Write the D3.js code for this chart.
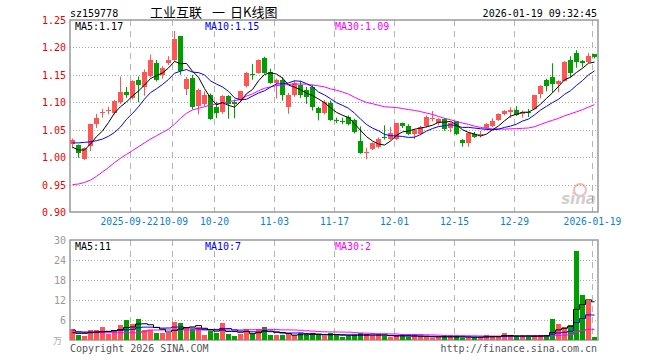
<!DOCTYPE html>
<html>
<head>
<meta charset="utf-8">
<script src="https://cdn.jsdelivr.net/npm/d3@7"></script>
<style>
body{margin:0;background:#fff}
svg{display:block}
text{font-family:"DejaVu Sans Mono",monospace;font-size:10px}
</style>
</head>
<body>
<svg width="660" height="360"></svg>
<script>
const dates = [
 '2025-09-08','2025-09-09','2025-09-10','2025-09-11','2025-09-12','2025-09-15','2025-09-16','2025-09-17','2025-09-18','2025-09-19',
 '2025-09-22','2025-09-23','2025-09-24','2025-09-25','2025-09-26','2025-09-29','2025-09-30','2025-10-09','2025-10-10','2025-10-13',
 '2025-10-14','2025-10-15','2025-10-16','2025-10-17','2025-10-20','2025-10-21','2025-10-22','2025-10-23','2025-10-24','2025-10-27',
 '2025-10-28','2025-10-29','2025-10-30','2025-10-31','2025-11-03','2025-11-04','2025-11-05','2025-11-06','2025-11-07','2025-11-10',
 '2025-11-11','2025-11-12','2025-11-13','2025-11-14','2025-11-17','2025-11-18','2025-11-19','2025-11-20','2025-11-21','2025-11-24',
 '2025-11-25','2025-11-26','2025-11-27','2025-11-28','2025-12-01','2025-12-02','2025-12-03','2025-12-04','2025-12-05','2025-12-08',
 '2025-12-09','2025-12-10','2025-12-11','2025-12-12','2025-12-15','2025-12-16','2025-12-17','2025-12-18','2025-12-19','2025-12-22',
 '2025-12-23','2025-12-24','2025-12-25','2025-12-26','2025-12-29','2025-12-30','2025-12-31','2026-01-05','2026-01-06','2026-01-07',
 '2026-01-08','2026-01-09','2026-01-12','2026-01-13','2026-01-14','2026-01-15','2026-01-16','2026-01-19'];

const open = [
 1.024,1.022,0.997,1.020,1.061,1.080,1.084,1.081,1.100,1.119,
 1.108,1.140,1.128,1.148,1.171,1.149,1.172,1.177,1.220,1.125,
 1.145,1.094,1.097,1.114,1.091,1.082,1.111,1.101,1.104,1.130,
 1.151,1.154,1.180,1.156,1.136,1.141,1.092,1.113,1.131,1.122,
 1.127,1.090,1.080,1.099,1.068,1.066,1.073,1.067,1.030,1.009,
 1.015,1.018,1.037,1.033,1.033,1.062,1.057,1.042,1.043,1.056,
 1.069,1.062,1.069,1.053,1.065,1.031,1.026,1.042,1.041,1.053,
 1.057,1.068,1.079,1.083,1.086,1.079,1.082,1.088,1.116,1.141,
 1.147,1.133,1.139,1.177,1.190,1.176,1.173,1.188];
const high = [
 1.034,1.023,1.018,1.061,1.079,1.088,1.092,1.104,1.147,1.128,
 1.140,1.147,1.160,1.187,1.177,1.166,1.184,1.230,1.220,1.146,
 1.150,1.125,1.120,1.116,1.101,1.113,1.113,1.105,1.121,1.155,
 1.170,1.178,1.183,1.161,1.143,1.146,1.117,1.140,1.139,1.128,
 1.132,1.092,1.104,1.103,1.072,1.072,1.076,1.070,1.056,1.017,
 1.027,1.036,1.058,1.055,1.062,1.063,1.060,1.052,1.057,1.076,
 1.084,1.071,1.071,1.064,1.066,1.033,1.046,1.046,1.048,1.062,
 1.071,1.080,1.086,1.091,1.093,1.085,1.088,1.114,1.131,1.143,
 1.171,1.140,1.175,1.184,1.195,1.177,1.190,1.188];
const low = [
 1.016,0.999,0.995,1.011,1.053,1.072,1.078,1.078,1.097,1.108,
 1.105,1.100,1.112,1.145,1.138,1.143,1.168,1.175,1.150,1.113,
 1.087,1.078,1.093,1.068,1.071,1.079,1.070,1.071,1.100,1.127,
 1.141,1.152,1.152,1.134,1.107,1.103,1.079,1.110,1.108,1.097,
 1.085,1.067,1.078,1.066,1.062,1.060,1.058,1.043,1.006,0.996,
 1.013,1.016,1.032,1.031,1.031,1.053,1.040,1.033,1.040,1.054,
 1.065,1.058,1.048,1.045,1.040,1.019,1.019,1.035,1.036,1.050,
 1.055,1.066,1.076,1.071,1.075,1.072,1.073,1.087,1.107,1.120,
 1.118,1.118,1.138,1.145,1.163,1.164,1.172,1.180];
const close = [
 1.032,1.008,1.016,1.060,1.071,1.083,1.086,1.102,1.118,1.114,
 1.138,1.131,1.156,1.177,1.141,1.162,1.177,1.215,1.157,1.143,
 1.091,1.122,1.113,1.070,1.081,1.111,1.097,1.097,1.120,1.153,
 1.149,1.177,1.154,1.136,1.141,1.113,1.113,1.135,1.113,1.110,
 1.091,1.081,1.101,1.068,1.067,1.065,1.060,1.045,1.007,1.010,
 1.025,1.033,1.035,1.044,1.062,1.056,1.042,1.050,1.055,1.073,
 1.071,1.069,1.051,1.062,1.042,1.026,1.044,1.037,1.043,1.060,
 1.065,1.079,1.084,1.086,1.077,1.083,1.080,1.113,1.130,1.130,
 1.133,1.139,1.173,1.153,1.174,1.171,1.185,1.183];

// volume, 万手
const vol = [
 3.2,1.4,1.2,3.0,3.0,3.9,1.7,2.7,4.4,6.0,
 4.7,6.2,3.0,3.0,2.0,2.0,2.0,5.4,5.0,4.0,
 3.2,4.0,1.4,2.7,2.0,5.0,1.7,1.2,1.7,3.2,
 1.7,3.2,3.9,1.4,1.4,1.4,1.7,1.4,2.0,1.4,
 2.0,1.4,1.2,2.0,1.7,1.0,1.2,1.4,2.0,1.7,
 1.2,1.4,1.2,1.0,1.2,1.4,1.0,1.0,1.0,1.0,
 0.7,1.0,1.0,1.0,1.0,0.7,0.7,0.7,1.0,1.6,
 1.0,1.0,2.0,1.2,1.0,1.0,1.0,1.4,1.4,1.4,
 6.2,4.7,3.9,4.4,26.8,13.4,11.7,1.0];

// moving average values before the window is full
const ma5Head = [1.018,1.013,1.013,1.024];
const ma10Head = [1.026,1.026,1.027,1.028,1.030,1.033,1.038,1.045,1.055];
const ma30Head = [0.950,0.951,0.954,0.958,0.965,0.973,0.981,0.990,0.998,1.005,
 1.012,1.019,1.026,1.033,1.039,1.045,1.051,1.060,1.071,1.080,
 1.086,1.089,1.092,1.095,1.097,1.099,1.101,1.103,1.105];
const volMa5Head = [2.2,2.0,2.0,2.2];
const volMa10Head = [3.0,2.5,2.4,2.4,2.4,2.5,2.6,2.7,2.9];
const volMa30Head = [2.2,2.2,2.2,2.2,2.2,2.2,2.2,2.2,2.2,2.2,
 2.2,2.2,2.5,3.0,3.0,3.0,3.0,3.0,3.0,3.0,
 3.0,3.0,3.0,3.0,3.0,3.0,3.0,3.0,3.0];

const tickDates = ['2025-09-22','2025-10-09','2025-10-20','2025-11-03','2025-11-17','2025-12-01','2025-12-15','2025-12-29','2026-01-19'];
const tickLabels = ['2025-09-22','10-09','10-20','11-03','11-17','12-01','12-15','12-29','2026-01-19'];
const priceTicks = [0.90,0.95,1.00,1.05,1.10,1.15,1.20,1.25];
const volTicks = [6,12,18,24,30];

const svg = d3.select('svg');
const left = 70, right = 598;
const top1 = 20, bot1 = 212, top2 = 240, bot2 = 340;
const red = '#ff5555', green = '#009f00';

const x = d3.scaleBand().domain(dates).range([left, right]).paddingInner(1/6).paddingOuter(1/12);
const y = d3.scaleLinear().domain([0.90, 1.25]).range([bot1, top1]);
const yv = d3.scaleLinear().domain([0, 30]).range([bot2, top2]);
const bx = d => Math.floor(x(d));
const cx = d => bx(d) + 2.5;

const ma = (arr, n, head) => arr.map((v, i) => i < n - 1 ? head[i] : d3.mean(arr.slice(i - n + 1, i + 1)));

// header
svg.append('text').attr('x', 70).attr('y', 17).text('sz159778');
[[150, '工业互联'], [212, '一'], [230, '日K线图']].forEach(([xx, t]) =>
	svg.append('text').attr('x', xx).attr('y', 17)
		.style('font-family', '"Noto Sans CJK SC"').style('font-size', '13px')
		.text(t));
svg.append('text').attr('x', 597).attr('y', 17).attr('text-anchor', 'end').text('2026-01-19 09:32:45');

const panel = (top, bot, yScale, ticks, tickColor, fmt) => {
	const g = svg.append('g');
	g.selectAll('.hg').data(ticks.filter(t => yScale(t) > top + 1 && yScale(t) < bot - 1)).enter()
		.append('line')
		.attr('x1', left).attr('x2', right)
		.attr('y1', d => Math.round(yScale(d)) + 0.5).attr('y2', d => Math.round(yScale(d)) + 0.5)
		.attr('stroke', '#aaa').attr('stroke-dasharray', '1,2');
	g.selectAll('.vg').data(tickDates).enter()
		.append('line')
		.attr('x1', d => bx(d) + 0.5).attr('x2', d => bx(d) + 0.5)
		.attr('y1', top).attr('y2', bot)
		.attr('stroke', '#b4b4b4').attr('stroke-dasharray', '6,5');
	g.append('rect')
		.attr('x', left).attr('y', top).attr('width', right - left).attr('height', bot - top)
		.attr('fill', 'none').attr('stroke', '#999').attr('stroke-width', 1.5);
	g.selectAll('.yl').data(ticks).enter()
		.append('text')
		.attr('x', 66).attr('y', d => yScale(d) + 4)
		.attr('text-anchor', 'end').attr('fill', tickColor)
		.text(fmt);
	return g;
};

panel(top1, bot1, y, priceTicks, '#ee0000', d => d.toFixed(2));
panel(top2, bot2, yv, volTicks, '#999', d => d);

// date labels, nudged apart where two would touch
const xl = svg.selectAll('.xl').data(tickDates).enter()
	.append('text')
	.attr('x', d => bx(d) + 0.5).attr('y', 225)
	.attr('text-anchor', 'middle').attr('fill', '#0a7fd1')
	.style('font-size', '9.6px')
	.text((d, i) => tickLabels[i]);
const nodes = xl.nodes();
for (let i = 1; i < nodes.length; i++) {
	const a = nodes[i - 1].getBBox(), b = nodes[i].getBBox();
	const over = a.x + a.width - b.x;
	if (over > -0.5) {
		d3.select(nodes[i - 1]).attr('x', +d3.select(nodes[i - 1]).attr('x') - over / 2 - 0.5);
		d3.select(nodes[i]).attr('x', +d3.select(nodes[i]).attr('x') + over / 2 + 0.5);
	}
}

// candles
const up = i => close[i] >= open[i];
const cg = svg.append('g');
dates.forEach((d, i) => {
	const col = up(i) ? red : green;
	cg.append('line')
		.attr('x1', cx(d)).attr('x2', cx(d))
		.attr('y1', y(high[i])).attr('y2', y(low[i]))
		.attr('stroke', col);
	const y0 = y(Math.max(open[i], close[i])), y1 = y(Math.min(open[i], close[i]));
	cg.append('rect')
		.attr('x', bx(d)).attr('width', 5)
		.attr('y', Math.round(y0)).attr('height', Math.max(1, Math.round(y1) - Math.round(y0)))
		.attr('fill', col);
});

// volume bars
svg.append('g').selectAll('rect').data(vol).enter()
	.append('rect')
	.attr('x', (v, i) => bx(dates[i])).attr('width', 5)
	.attr('y', v => Math.round(yv(v))).attr('height', v => bot2 - Math.round(yv(v)))
	.attr('fill', (v, i) => up(i) ? red : green);

// moving averages
const priceLine = d3.line().x((v, i) => cx(dates[i])).y(v => y(v));
const volLine = d3.line().x((v, i) => cx(dates[i])).y(v => yv(v)).curve(d3.curveStep);
[[ma(close, 30, ma30Head), '#f0f'], [ma(close, 10, ma10Head), '#00f'], [ma(close, 5, ma5Head), '#000']]
	.forEach(([vals, col]) => {
		svg.append('path').attr('d', priceLine(vals)).attr('fill', 'none').attr('stroke', col);
	});
[[ma(vol, 30, volMa30Head), '#f0f'], [ma(vol, 10, volMa10Head), '#00f'], [ma(vol, 5, volMa5Head), '#000']]
	.forEach(([vals, col]) => {
		svg.append('path').attr('d', volLine(vals)).attr('fill', 'none').attr('stroke', col);
	});

// legends
const legend = (yy, items) => items.forEach(([xx, txt, col]) =>
	svg.append('text').attr('x', xx).attr('y', yy).attr('fill', col).text(txt));
legend(30, [[75, 'MA5:1.17', '#000'], [205, 'MA10:1.15', '#00f'], [335, 'MA30:1.09', '#f0f']]);
legend(250, [[75, 'MA5:11', '#000'], [205, 'MA10:7', '#00f'], [335, 'MA30:2', '#f0f']]);

// unit, footer, watermark
svg.append('text').attr('x', 62).attr('y', 344).attr('text-anchor', 'end')
	.style('font-family', '"Noto Sans CJK SC"').style('font-size', '9px').attr('fill', '#aaa').text('万');
svg.append('text').attr('x', 70).attr('y', 352).attr('fill', '#555').text('Copyright 2026 SINA.COM');
svg.append('text').attr('x', 597).attr('y', 352).attr('text-anchor', 'end').attr('fill', '#555').text('http://finance.sina.com.cn');
const wm = svg.append('g').attr('opacity', 0.35);
wm.append('circle').attr('cx', 580).attr('cy', 190).attr('r', 6).attr('fill', 'none').attr('stroke', '#e33').attr('stroke-width', 2);
wm.append('text').attr('x', 596).attr('y', 204).attr('text-anchor', 'end')
	.style('font-family', '"DejaVu Sans"').style('font-size', '15px').style('font-weight', 'bold').style('font-style', 'italic')
	.attr('fill', '#777').text('sina');
</script>
</body>
</html>
